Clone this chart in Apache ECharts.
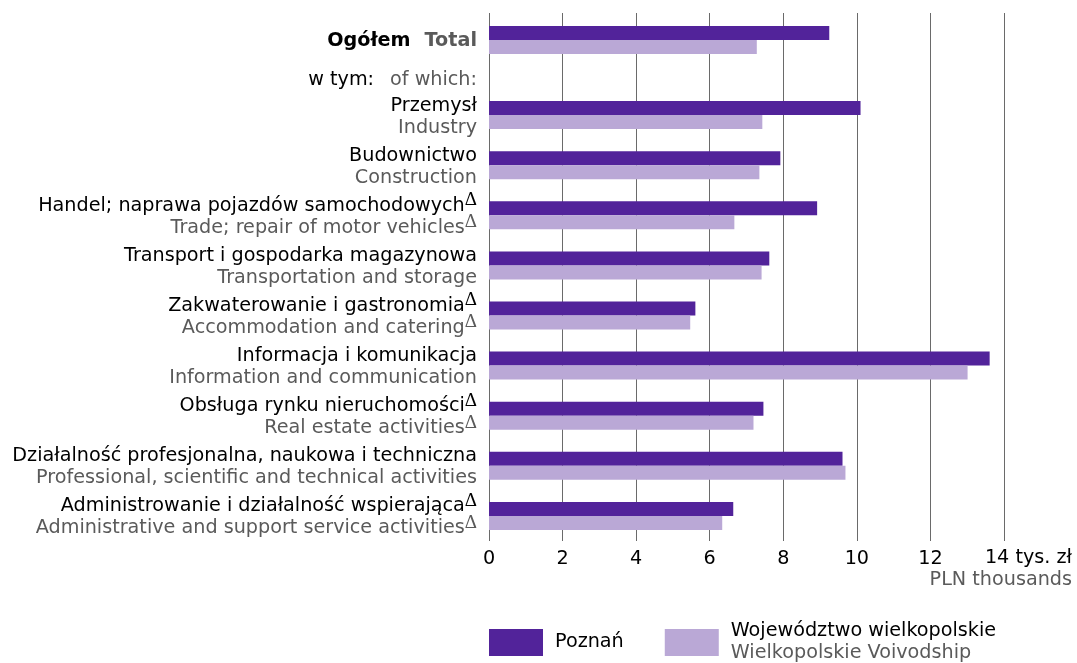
<!DOCTYPE html>
<html>
<head>
<meta charset="utf-8">
<script src="https://cdn.jsdelivr.net/npm/echarts@6/dist/echarts.min.js"></script>
<style>
html,body{margin:0;padding:0;background:#fff}
#chart{width:1077px;height:663px}
</style>
</head>
<body>
<div id="chart"></div>
<script>
// przeciętne wynagrodzenie, tys. zł
var totalLabel = ['Ogółem', 'Total'];
var subLabel = ['w tym:', 'of which:'];
var sectorsPl = ['Przemysł', 'Budownictwo', 'Handel; naprawa pojazdów samochodowych', 'Transport i gospodarka magazynowa',
    'Zakwaterowanie i gastronomia', 'Informacja i komunikacja', 'Obsługa rynku nieruchomości',
    'Działalność profesjonalna, naukowa i techniczna', 'Administrowanie i działalność wspierająca'];
var sectorsEn = ['Industry', 'Construction', 'Trade; repair of motor vehicles', 'Transportation and storage',
    'Accommodation and catering', 'Information and communication', 'Real estate activities',
    'Professional, scientific and technical activities', 'Administrative and support service activities'];
var delta = [false, false, true, false, true, false, true, false, true];
var poznanTotal = [9.25];
var wlkpTotal = [7.28];
var poznan = [10.10, 7.92, 8.92, 7.62, 5.61, 13.61, 7.46, 9.61, 6.64];
var wlkp = [7.43, 7.35, 6.67, 7.41, 5.47, 13.01, 7.19, 9.69, 6.34];
var xTicks = [0, 2, 4, 6, 8, 10, 12, 14];
var seriesNames = ['Poznań', 'Województwo wielkopolskie'];
var seriesNamesEn = ['', 'Wielkopolskie Voivodship'];

var DARK = '#52239a', LIGHT = '#baa8d6';
var FONT = 'DejaVu Sans';
var FS = 19.2;
var GRAY = '#5a5a5a';

var chart = echarts.init(document.getElementById('chart'));

var richY = {
    pl: {color: '#000', fontSize: FS, lineHeight: 22, fontFamily: FONT},
    en: {color: GRAY, fontSize: FS, lineHeight: 22, fontFamily: FONT},
    // trójkąt jako indeks górny
    d: {color: '#000', fontSize: 19, height: 11, lineHeight: 11, verticalAlign: 'top', fontFamily: 'Liberation Serif'},
    de: {color: GRAY, fontSize: 19, height: 11, lineHeight: 11, verticalAlign: 'top', fontFamily: 'Liberation Serif'},
    tb: {color: '#000', fontSize: FS, fontWeight: 'bold', fontFamily: FONT},
    gb: {color: GRAY, fontSize: FS, fontWeight: 'bold', fontFamily: FONT, padding: [0, 0, 0, 14]},
    k: {color: '#000', fontSize: FS, fontFamily: FONT},
    g: {color: GRAY, fontSize: FS, fontFamily: FONT, padding: [0, 0, 0, 16]}
};

function xAxis(i, last) {
    var ax = {
        type: 'value', gridIndex: i,
        min: xTicks[0], max: xTicks[xTicks.length - 1], interval: xTicks[1] - xTicks[0],
        axisLine: {show: false}, axisTick: {show: false},
        splitLine: {show: true, lineStyle: {color: '#6a6a6a', width: 1}},
        axisLabel: {show: false}
    };
    if (last) {
        ax.axisLabel = {show: true, color: '#000', fontSize: FS, fontFamily: FONT, margin: 9, showMaxLabel: false};
        ax.name = '{a|' + xTicks[xTicks.length - 1] + ' tys. zł}\n{b|PLN thousands}';
        ax.nameLocation = 'end';
        ax.nameGap = 68;
        ax.nameMoveOverlap = false;
        ax.nameTextStyle = {
            align: 'right', verticalAlign: 'top', padding: [6, 0, 0, 0],
            rich: {
                a: {color: '#000', fontSize: FS, lineHeight: 22, fontFamily: FONT, align: 'right'},
                b: {color: GRAY, fontSize: FS, lineHeight: 22, fontFamily: FONT, align: 'right'}
            }
        };
    }
    return ax;
}

function yAxis(i, data, fmt) {
    return {
        type: 'category', gridIndex: i, inverse: true, data: data,
        axisLine: {show: false}, axisTick: {show: false}, splitLine: {show: false},
        axisLabel: {margin: 12, formatter: fmt, rich: richY, padding: [3, 0, 0, 0]}
    };
}

function bar(name, i, data, color) {
    return {
        name: name, type: 'bar', xAxisIndex: i, yAxisIndex: i, data: data,
        barWidth: 14, barGap: '0%', itemStyle: {color: color}
    };
}

chart.setOption({
    animation: false,
    textStyle: {fontFamily: FONT},
    grid: [
        {left: 489, right: 73, top: 13, height: 54, outerBoundsMode: 'none', containLabel: false},
        {left: 489, right: 73, top: 67, height: 23, outerBoundsMode: 'none', containLabel: false},
        {left: 489, right: 73, top: 90, height: 451, outerBoundsMode: 'none', containLabel: false}
    ],
    xAxis: [xAxis(0, false), xAxis(1, false), xAxis(2, true)],
    yAxis: [
        yAxis(0, [totalLabel[0]], function () {
            return '{tb|' + totalLabel[0] + '}{gb|' + totalLabel[1] + '}';
        }),
        yAxis(1, [subLabel[0]], function () {
            return '{k|' + subLabel[0] + '}{g|' + subLabel[1] + '}';
        }),
        yAxis(2, sectorsPl, function (v, idx) {
            var d = delta[idx];
            return '{pl|' + sectorsPl[idx] + '}' + (d ? '{d|Δ}' : '') + '\n' +
                '{en|' + sectorsEn[idx] + '}' + (d ? '{de|Δ}' : '');
        })
    ],
    legend: {
        left: 489, top: 622, padding: 0,
        itemWidth: 54, itemHeight: 27, itemGap: 41,
        icon: 'rect',
        data: seriesNames,
        formatter: function (name) {
            var en = seriesNamesEn[seriesNames.indexOf(name)];
            return '{a|' + name + '}' + (en ? '\n{b|' + en + '}' : '');
        },
        textStyle: {
            padding: [0, 0, 0, 7],
            rich: {
                a: {color: '#000', fontSize: FS, lineHeight: 22, fontFamily: FONT},
                b: {color: GRAY, fontSize: FS, lineHeight: 22, fontFamily: FONT}
            }
        }
    },
    series: [
        bar(seriesNames[0], 0, poznanTotal, DARK),
        bar(seriesNames[1], 0, wlkpTotal, LIGHT),
        bar(seriesNames[0], 2, poznan, DARK),
        bar(seriesNames[1], 2, wlkp, LIGHT)
    ]
});
</script>
</body>
</html>
